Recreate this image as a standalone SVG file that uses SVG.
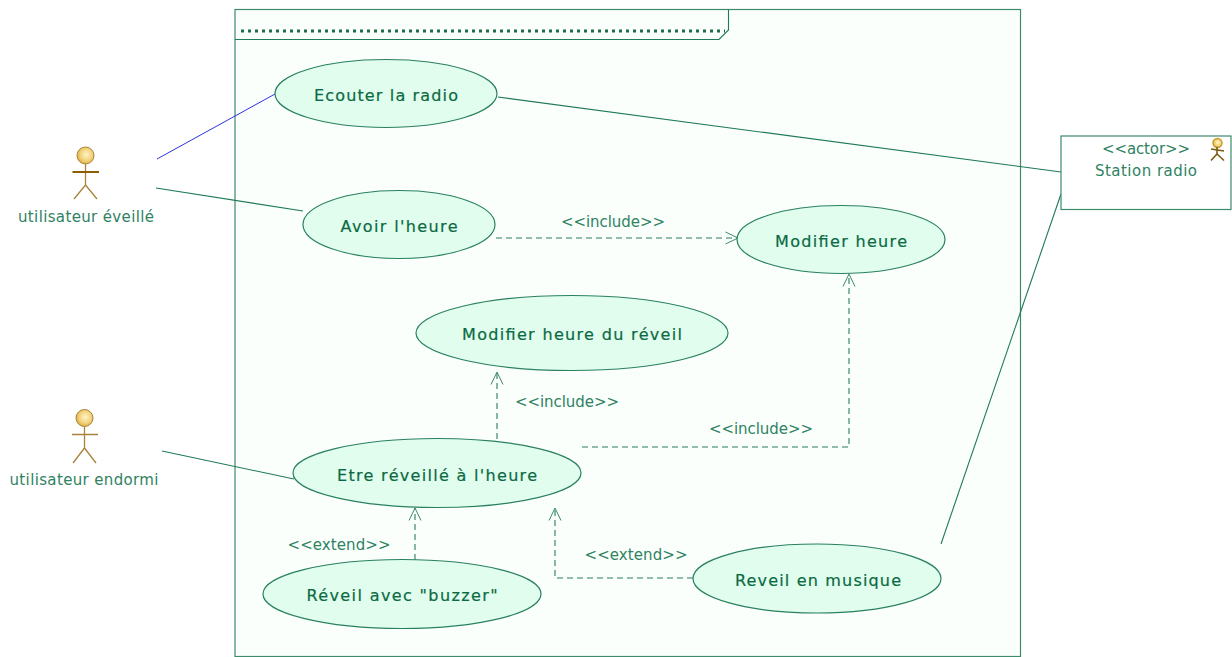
<svg xmlns="http://www.w3.org/2000/svg" width="1232" height="657" viewBox="0 0 1232 657">
<defs>
<radialGradient id="head" cx="0.55" cy="0.45" r="0.6"><stop offset="0" stop-color="#fff4c8"/><stop offset="0.6" stop-color="#f2d27a"/><stop offset="1" stop-color="#d9a83a"/></radialGradient>
<marker id="open" viewBox="0 0 14 14" refX="13" refY="7" markerWidth="14" markerHeight="14" markerUnits="userSpaceOnUse" orient="auto"><path d="M0.500 1 L13 7 L0.500 13" fill="none" stroke="#3d8a6c" stroke-width="1"/></marker>
</defs>
<style>
.uc{fill:#e0fdee;stroke:#2a8060;stroke-width:1.200}
.ut{font-family:"DejaVu Sans",sans-serif;font-size:16px;fill:#0b6a42;text-anchor:middle;stroke:#0b6a42;stroke-width:.2}
.lb{font-family:"DejaVu Sans",sans-serif;font-size:15px;fill:#2f8262;text-anchor:middle}
.c{fill:none;stroke:#1f7a55;stroke-width:1.100}
.d{fill:none;stroke:#2a7d5c;stroke-width:1.100;stroke-dasharray:6 4;marker-end:url(#open)}
.sk{stroke:#a8843a;stroke-width:1.300;fill:none}
</style>
<rect width="1232" height="657" fill="#ffffff"/>
<g id="frame">
<rect x="235" y="9.500" width="785.500" height="647" fill="#fafffc" stroke="#3d8a6c" stroke-width="1.200"/>
<path class="c" d="M235 39.500H719L728.500 30V9.500"/>
<path d="M241 31H725" fill="none" stroke="#1f6b4a" stroke-width="3" stroke-dasharray="3 4"/>
</g>
<g id="connectors">
<path d="M157 159L275 94" fill="none" stroke="#3030e0" stroke-width="1"/>
<path class="c" d="M498 97L1061 172"/>
<path class="c" d="M156 188L303 211"/>
<path class="c" d="M162 451L294 479"/>
<path class="c" d="M941 544L1061 194"/>
<path class="d" d="M496 238H738"/>
<path class="d" d="M582 447H849V274"/>
<path class="d" d="M497 439V372"/>
<path class="d" d="M415 560V508"/>
<path class="d" d="M693 578H555V508"/>
</g>
<g id="uc-ecouter"><ellipse class="uc" cx="386" cy="93.500" rx="111" ry="34"/><text class="ut" x="386" y="100.500" textLength="144">Ecouter la radio</text></g>
<g id="uc-avoir"><ellipse class="uc" cx="399" cy="224.500" rx="96" ry="34"/><text class="ut" x="399" y="231.500" textLength="117">Avoir l'heure</text></g>
<g id="uc-modifier"><ellipse class="uc" cx="841" cy="239.500" rx="104" ry="34"/><text class="ut" x="841" y="246.500" textLength="132">Modifier heure</text></g>
<g id="uc-modifier-reveil"><ellipse class="uc" cx="572" cy="333" rx="156" ry="37.500"/><text class="ut" x="572" y="339.500" textLength="220">Modifier heure du réveil</text></g>
<g id="uc-etre"><ellipse class="uc" cx="437" cy="473" rx="144" ry="34.500"/><text class="ut" x="437" y="480.500" textLength="200">Etre réveillé à l'heure</text></g>
<g id="uc-buzzer"><ellipse class="uc" cx="402" cy="594" rx="139" ry="34.500"/><text class="ut" x="402" y="600.500" textLength="191">Réveil avec "buzzer"</text></g>
<g id="uc-musique"><ellipse class="uc" cx="817" cy="578.500" rx="124" ry="34.500"/><text class="ut" x="818" y="585.500" textLength="166">Reveil en musique</text></g>
<g id="labels">
<text class="lb" x="613" y="227" textLength="104">&lt;&lt;include&gt;&gt;</text>
<text class="lb" x="567" y="407" textLength="104">&lt;&lt;include&gt;&gt;</text>
<text class="lb" x="761" y="434" textLength="104">&lt;&lt;include&gt;&gt;</text>
<text class="lb" x="339" y="550" textLength="103">&lt;&lt;extend&gt;&gt;</text>
<text class="lb" x="636" y="560" textLength="103">&lt;&lt;extend&gt;&gt;</text>
</g>
<g id="actor-eveille">
<circle cx="85.500" cy="155.500" r="8.500" fill="url(#head)" stroke="#a8843a"/>
<path class="sk" d="M85.500 164V185M85.500 185L74 199M85.500 185L97 199"/>
<path d="M72.500 172H99" stroke="#8a5f00" stroke-width="2" fill="none"/>
<text class="lb" x="86" y="222" textLength="136">utilisateur éveillé</text>
</g>
<g id="actor-endormi">
<circle cx="84.500" cy="418" r="8.500" fill="url(#head)" stroke="#a8843a"/>
<path class="sk" d="M84.500 427V448M84.500 448L73 463M84.500 448L96 463M72 434.500H98"/>
<text class="lb" x="84" y="485" textLength="149">utilisateur endormi</text>
</g>
<g id="actor-station">
<rect x="1061" y="136" width="170" height="73.500" fill="#ffffff" stroke="#3d8a6c" stroke-width="1.200"/>
<text class="lb" x="1146" y="154" textLength="88">&lt;&lt;actor&gt;&gt;</text>
<text class="lb" x="1146" y="176" textLength="102">Station radio</text>
<circle cx="1217.500" cy="143" r="4.500" fill="url(#head)" stroke="#c99a30" stroke-width="1.500"/>
<path d="M1217 147V154M1217 154L1211 160.500M1217 154L1224 160.500M1211 149L1224 151" fill="none" stroke="#7a5a10" stroke-width="1.600"/>
</g>
</svg>
